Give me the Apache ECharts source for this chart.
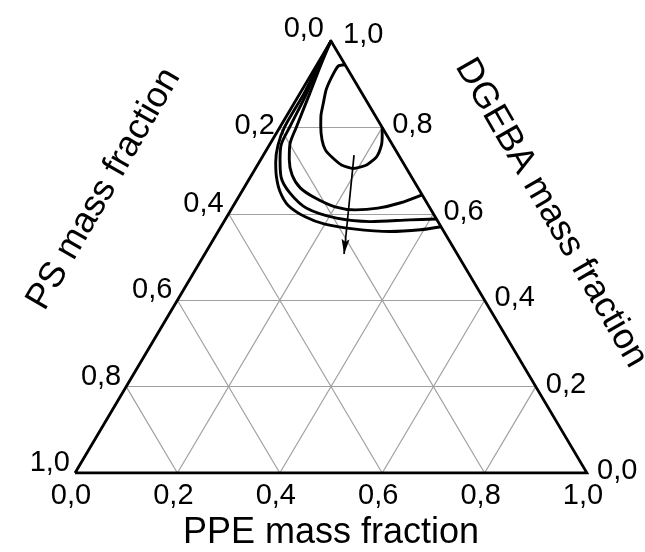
<!DOCTYPE html>
<html><head><meta charset="utf-8">
<script src="https://cdn.jsdelivr.net/npm/echarts@6/dist/echarts.min.js"></script>
<style>html,body{margin:0;padding:0;background:#fff}#c{width:645px;height:552px}</style>
</head><body><div id="c"></div><script>
// ---- data (ternary compositions given as [PPE fraction, DGEBA fraction]) ----
const tickValues = [0, 0.2, 0.4, 0.6, 0.8, 1.0];
const ppeTickLabels = ['0,0','0,2','0,4','0,6','0,8','1,0'];
const psTickLabels = ['0,0','0,2','0,4','0,6','0,8','1,0'];
const dgebaTickLabels = ['0,0','0,2','0,4','0,6','0,8','1,0'];
const gridLevels = [0.2, 0.4, 0.6, 0.8];
const axisTitles = ['PPE mass fraction', 'PS mass fraction', 'DGEBA mass fraction'];

const curveOuter = [[0.0,1.0],[0.003,0.944],[0.008,0.880],[0.009,0.801],[0.017,0.759],[0.032,0.720],[0.051,0.685],[0.075,0.651],[0.106,0.620],[0.153,0.593],[0.200,0.576],[0.261,0.565],[0.336,0.559],[0.393,0.563],[0.430,0.570]];
const curveMiddle = [[0.0,1.0],[0.004,0.944],[0.013,0.880],[0.019,0.801],[0.023,0.759],[0.038,0.725],[0.060,0.685],[0.096,0.648],[0.146,0.613],[0.216,0.590],[0.285,0.582],[0.362,0.586],[0.412,0.588]];
const curveInner = [[0.0,1.0],[0.008,0.944],[0.019,0.880],[0.032,0.801],[0.040,0.759],[0.056,0.725],[0.079,0.690],[0.110,0.660],[0.150,0.637],[0.200,0.616],[0.243,0.609],[0.285,0.613],[0.322,0.625],[0.356,0.644]];
const loopCurve = [[0.055,0.945],[0.043,0.942],[0.043,0.917],[0.047,0.887],[0.057,0.856],[0.066,0.829],[0.079,0.802],[0.097,0.771],[0.115,0.748],[0.135,0.732],[0.164,0.713],[0.191,0.705],[0.213,0.713],[0.223,0.732],[0.219,0.759],[0.209,0.782],[0.200,0.800]];
const arrowPath = [[0.177,0.736],[0.272,0.507]];

// ---- ternary -> cartesian helper ----
function tern(pt){ return [pt[0] + pt[1] / 2, pt[1]]; }

const FONT = '"Liberation Sans", Arial, sans-serif';
const INK = '#000';

const gridSegs = [];
gridLevels.forEach(k => {
  gridSegs.push([[0, k], [1 - k, k]]);       // DGEBA constant
  gridSegs.push([[k, 0], [k, 1 - k]]);       // PPE constant
  gridSegs.push([[1 - k, 0], [0, 1 - k]]);   // PS constant
});

function curveSeries(pts, smooth){
  return { type: 'line', data: pts.map(tern), symbol: 'none', smooth: smooth,
    lineStyle: { color: INK, width: 2.9 }, z: 6, silent: true };
}
function tickSeries(pts, labels, lab, overrides){
  return { type: 'scatter', symbolSize: 0, silent: true, z: 8,
    itemStyle: { opacity: 1 },
    data: pts.map((p, i) => ({ value: tern(p), label: Object.assign({}, lab, (overrides || {})[i] || {}) })),
    label: { show: true, position: 'inside', fontFamily: FONT, fontSize: 29, color: INK, opacity: 1,
      textBorderWidth: 0, formatter: params => labels[params.dataIndex] } };
}

const chart = echarts.init(document.getElementById('c'), null, { renderer: 'canvas' });
const option = {
  animation: false,
  backgroundColor: '#fff',
  grid: { left: 75, right: 58, top: 41, bottom: 79 },
  xAxis: { type: 'value', min: 0, max: 1, show: false },
  yAxis: { type: 'value', min: 0, max: 1, show: false },
  series: [
    { type: 'lines', coordinateSystem: 'cartesian2d', silent: true, z: 1,
      data: gridSegs.map(s => ({ coords: s.map(tern) })),
      lineStyle: { color: '#a0a0a0', width: 1.2, opacity: 1 } },
    { type: 'line', data: [[0,0],[1,0],[0,1],[0,0]].map(tern), symbol: 'none', silent: true, z: 5,
      lineStyle: { color: INK, width: 2.8, join: 'miter' } },
    curveSeries(curveOuter, 0.3),
    curveSeries(curveMiddle, 0.3),
    curveSeries(curveInner, 0.3),
    curveSeries(loopCurve, 0.2),
    { type: 'line', data: arrowPath.map(tern), symbol: 'none', silent: true, z: 6,
      lineStyle: { color: INK, width: 1.7 } },
    tickSeries(tickValues.map(t => [t, 0]), ppeTickLabels,
      { align: 'center', verticalAlign: 'middle', offset: [-4, 23] }),
    tickSeries(tickValues.map(t => [0, 1 - t]), psTickLabels,
      { align: 'right', verticalAlign: 'middle', offset: [-5, -10] },
      { 0: { offset: [-7, -12] }, 1: { offset: [-5, -1] } }),
    tickSeries(tickValues.map(t => [1 - t, t]), dgebaTickLabels,
      { align: 'left', verticalAlign: 'middle', offset: [10, -2] },
      { 5: { offset: [12, -6] } })
  ],
  graphic: [
    { type: 'text', x: 331, y: 533, silent: true,
      style: { text: axisTitles[0], font: '36px ' + FONT, fill: INK, align: 'center', verticalAlign: 'middle' } },
    { type: 'text', x: 104, y: 189, rotation: Math.PI / 3, silent: true,
      style: { text: axisTitles[1], font: '36px ' + FONT, fill: INK, align: 'center', verticalAlign: 'middle' } },
    { type: 'text', x: 551, y: 213, rotation: -Math.PI / 3, silent: true,
      style: { text: axisTitles[2], font: '36px ' + FONT, fill: INK, align: 'center', verticalAlign: 'middle' } }
  ]
};
chart.setOption(option);

// arrow head: orient along the arrow shaft using the chart's own scale
const a0 = chart.convertToPixel({ gridIndex: 0 }, tern(arrowPath[0]));
const a1 = chart.convertToPixel({ gridIndex: 0 }, tern(arrowPath[1]));
const len = Math.hypot(a1[0] - a0[0], a1[1] - a0[1]);
const ux = (a1[0] - a0[0]) / len, uy = (a1[1] - a0[1]) / len;
const headH = 15;
const rot = Math.atan2(-ux, -uy) * 180 / Math.PI;
chart.setOption({ series: option.series.concat([{
  type: 'scatter', silent: true, z: 7,
  data: [tern(arrowPath[1])],
  symbol: 'path://M5,0 L10,20 L5,16 L0,20 Z',
  symbolSize: [8, headH],
  symbolRotate: rot,
  symbolOffset: [-ux * headH / 2, -uy * headH / 2],
  itemStyle: { color: INK, opacity: 1 }
}]) });
</script></body></html>
